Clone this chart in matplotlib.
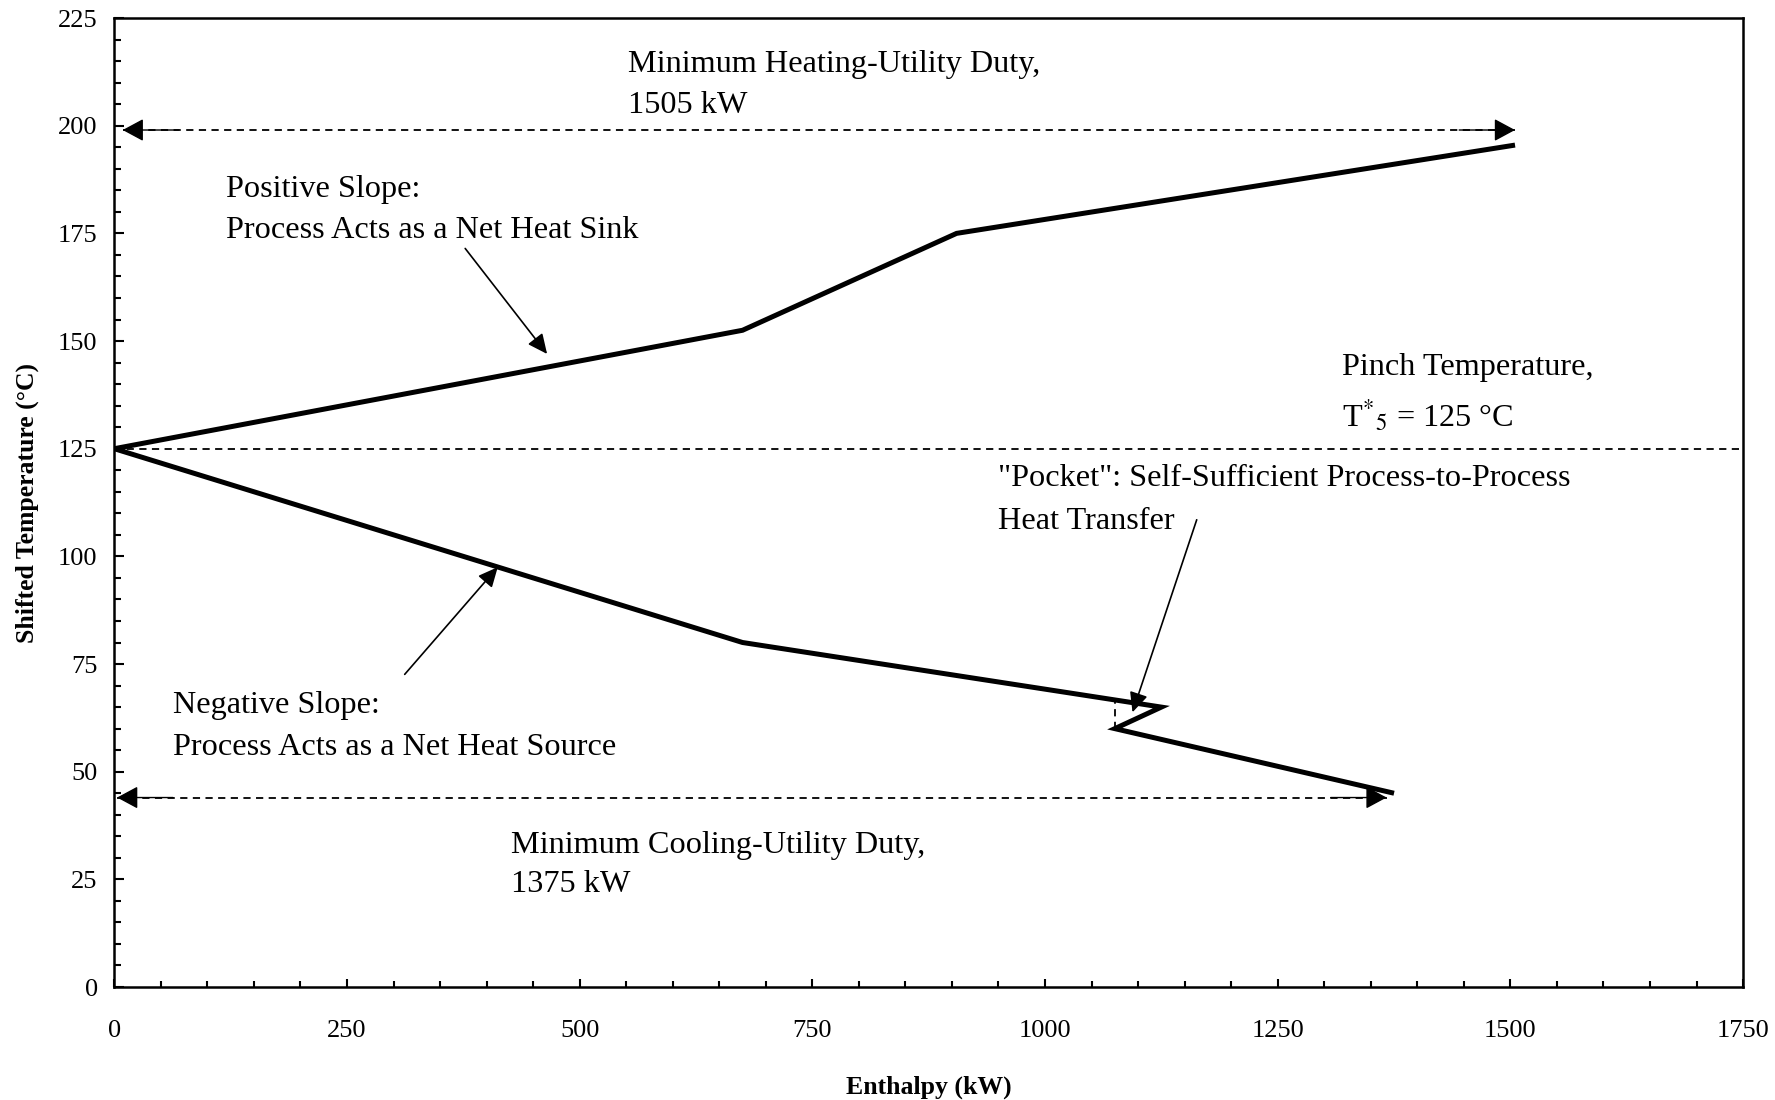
import matplotlib
matplotlib.use("Agg")
import matplotlib.pyplot as plt
from matplotlib.ticker import MultipleLocator

plt.rcParams['font.family'] = ['Liberation Serif', 'DejaVu Serif']
plt.rcParams['mathtext.fontset'] = 'stix'

# Grand composite curve (shifted temperature vs. enthalpy)
enthalpy = [1505, 905, 675, 0, 675, 1125, 1075, 1375]
shifted_temp = [195.5, 175, 152.5, 125, 80, 65, 60, 45]

pinch_temp = 125
heating_duty = 1505
cooling_duty = 1375
heating_arrow_y = 199
cooling_arrow_y = 44

x_ticks = [0, 250, 500, 750, 1000, 1250, 1500, 1750]
y_ticks = [0, 25, 50, 75, 100, 125, 150, 175, 200, 225]

fig = plt.figure(figsize=(17.75, 11), dpi=100)
ax = fig.add_axes([0.0644, 0.1027, 0.9176, 0.8809])

ax.set_xlim(0, 1750)
ax.set_ylim(0, 225)
ax.set_xticks(x_ticks)
ax.set_yticks(y_ticks)
ax.xaxis.set_minor_locator(MultipleLocator(50))
ax.yaxis.set_minor_locator(MultipleLocator(5))
ax.tick_params(axis='x', which='major', direction='in', length=6, width=1.5,
               labelsize=19, pad=24)
ax.tick_params(axis='x', which='minor', direction='in', length=4.5, width=1.5)
ax.tick_params(axis='y', which='major', direction='in', length=7, width=1.5,
               labelsize=19, pad=12)
ax.tick_params(axis='y', which='minor', direction='in', length=5, width=1.5)
for sp in ax.spines.values():
    sp.set_linewidth(1.8)

ax.set_xlabel('Enthalpy (kW)', fontsize=18.5, fontweight='bold', labelpad=24)
ax.set_ylabel('Shifted Temperature (°C)', fontsize=18.5, fontweight='bold', labelpad=14)

dash_kw = dict(color='black', lw=1.3, dashes=(4, 3))

# Pinch line
ax.plot([0, 1750], [pinch_temp, pinch_temp], **dash_kw, zorder=2)

# Pocket boundary
pocket_x = enthalpy[6]
pocket_top = shifted_temp[4] + (shifted_temp[5] - shifted_temp[4]) * (pocket_x - enthalpy[4]) / (enthalpy[5] - enthalpy[4])
ax.plot([pocket_x, pocket_x], [shifted_temp[6], pocket_top], **dash_kw, zorder=2)

# Utility duty arrows
def duty_arrow(x0, x1, y):
    ax.plot([x0, x1], [y, y], **dash_kw, zorder=2)
    head = dict(arrowstyle='-|>,head_length=0.65,head_width=0.35',
                color='black', lw=1.0, mutation_scale=20, shrinkA=0, shrinkB=0)
    ax.annotate('', xy=(x0, y), xytext=(x0 + 60, y), arrowprops=head, zorder=3)
    ax.annotate('', xy=(x1, y), xytext=(x1 - 60, y), arrowprops=head, zorder=3)

duty_arrow(9, heating_duty, heating_arrow_y)
duty_arrow(3, cooling_duty - 8, cooling_arrow_y)

# Curve
ax.plot(enthalpy, shifted_temp, color='black', lw=3.6, solid_joinstyle='miter',
        solid_capstyle='butt', zorder=4)

# Text annotations
fs = 23.2
def label(x, y, lines, gap=9.7):
    for i, t in enumerate(lines):
        ax.text(x, y - 0.7 - i * gap, t, fontsize=fs, ha='left', va='center')

label(552, 215, ['Minimum Heating-Utility Duty,', f'{heating_duty} kW'])
label(120, 186, ['Positive Slope:', 'Process Acts as a Net Heat Sink'])
label(1319, 144.6, ['Pinch Temperature,', r'T$^{*}{}_{5}$ = 125 °C'], gap=11.1)
label(950, 118.8, ['"Pocket": Self-Sufficient Process-to-Process', 'Heat Transfer'], gap=10)
label(63, 66, ['Negative Slope:', 'Process Acts as a Net Heat Source'])
label(426, 33.6, ['Minimum Cooling-Utility Duty,', f'{cooling_duty} kW'], gap=9.2)

pointer = dict(arrowstyle='-|>,head_length=0.6,head_width=0.28', color='black',
               lw=1.2, mutation_scale=20, shrinkA=0, shrinkB=0)
ax.annotate('', xy=(465, 147), xytext=(377, 171.5), arrowprops=pointer, zorder=5)
ax.annotate('', xy=(412, 97.5), xytext=(312, 72.6), arrowprops=pointer, zorder=5)
ax.annotate('', xy=(1094, 63.8), xytext=(1163, 108.5), arrowprops=pointer, zorder=5)

fig.savefig('out.png', dpi=100)
